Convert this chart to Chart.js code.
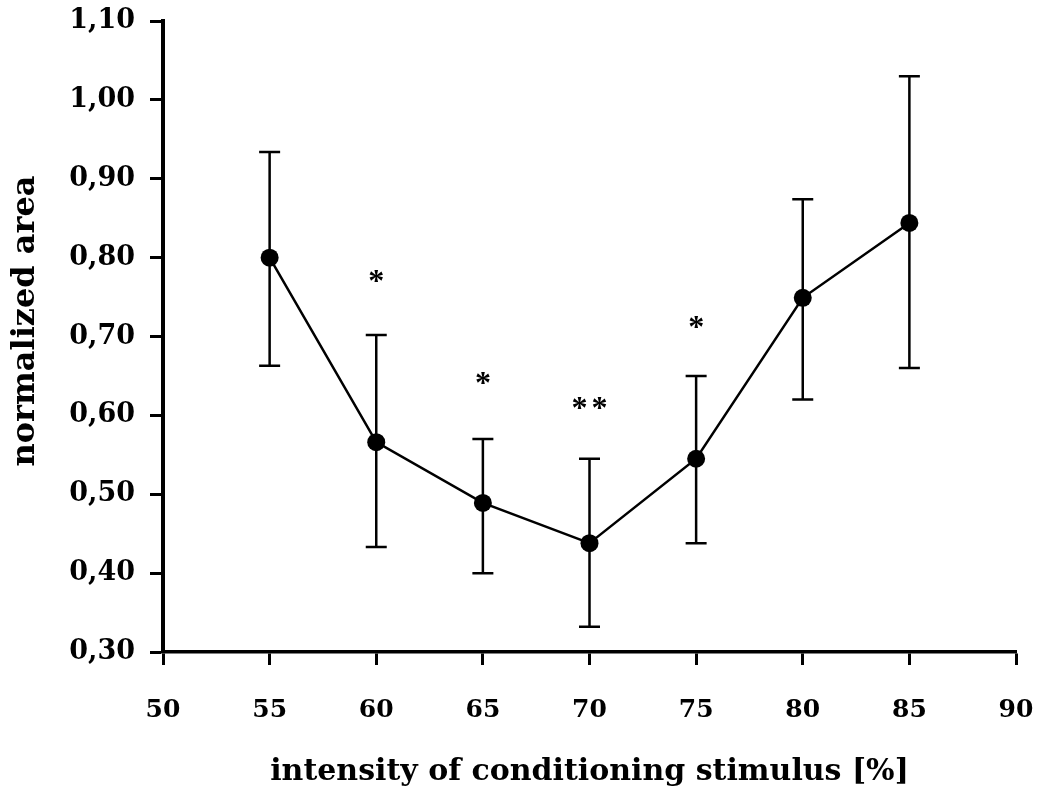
<!DOCTYPE html>
<html>
<head>
<meta charset="utf-8">
<script src="https://cdn.jsdelivr.net/npm/chart.js@4.4.1/dist/chart.umd.min.js"></script>
<style>
  html, body { margin: 0; padding: 0; background: #ffffff; }
  #wrap { width: 1038px; height: 790px; }
</style>
</head>
<body>
<div id="wrap"><canvas id="c" width="1038" height="790"></canvas></div>
<script>
// ---- data ----
const intensities = [55, 60, 65, 70, 75, 80, 85];
const meanArea    = [0.800, 0.566, 0.489, 0.438, 0.545, 0.749, 0.844];
const upperArea   = [0.934, 0.702, 0.570, 0.545, 0.650, 0.874, 1.030];
const lowerArea   = [0.663, 0.433, 0.400, 0.332, 0.438, 0.620, 0.660];
const sigMarks    = ['', '*', '*', '**', '*', '', ''];
const sigMarkY    = [null, 0.774, 0.645, 0.613, 0.716, null, null];
const xTickValues = [50, 55, 60, 65, 70, 75, 80, 85, 90];
const yTickValues = [0.30, 0.40, 0.50, 0.60, 0.70, 0.80, 0.90, 1.00, 1.10];
const yTickLabels = ['0,30', '0,40', '0,50', '0,60', '0,70', '0,80', '0,90', '1,00', '1,10'];
const xTitle = 'intensity of conditioning stimulus [%]';
const yTitle = 'normalized area';

const LABEL_FONT = 'DejaVu Serif';

function zeroPad(s) {
  s.paddingLeft = 0; s.paddingRight = 0; s.paddingTop = 0; s.paddingBottom = 0;
}

const errorBarPlugin = {
  id: 'errorBars',
  beforeDatasetsDraw(chart) {
    const {ctx, scales: {x, y}} = chart;
    ctx.save();
    ctx.strokeStyle = '#000';
    ctx.lineWidth = 2.5;
    const cap = 10.5;
    intensities.forEach((v, i) => {
      const px = x.getPixelForValue(v);
      const yt = y.getPixelForValue(upperArea[i]);
      const yb = y.getPixelForValue(lowerArea[i]);
      ctx.beginPath();
      ctx.moveTo(px, yt); ctx.lineTo(px, yb);
      ctx.moveTo(px - cap, yt); ctx.lineTo(px + cap, yt);
      ctx.moveTo(px - cap, yb); ctx.lineTo(px + cap, yb);
      ctx.stroke();
    });
    ctx.restore();
  },
  afterDatasetsDraw(chart) {
    const {ctx, scales: {x, y}} = chart;
    ctx.save();
    ctx.fillStyle = '#000';
    ctx.font = 'bold 32px "Liberation Serif"';
    ctx.textAlign = 'center';
    ctx.textBaseline = 'alphabetic';
    intensities.forEach((v, i) => {
      const m = sigMarks[i];
      if (!m) return;
      const px = x.getPixelForValue(v);
      const py = y.getPixelForValue(sigMarkY[i]);
      const n = m.length;
      const gap = 20;
      for (let k = 0; k < n; k++) {
        const cx = px + (k - (n - 1) / 2) * gap;
        ctx.fillText(m[k], cx, py + 13);
      }
    });
    ctx.restore();
  },
  afterDraw(chart) {
    const {ctx} = chart;
    ctx.save();
    ctx.fillStyle = '#000';
    ctx.font = 'bold 32px "' + LABEL_FONT + '"';
    ctx.textAlign = 'center';
    ctx.textBaseline = 'middle';
    ctx.translate(26, 321);
    ctx.rotate(-Math.PI / 2);
    ctx.fillText(yTitle, 0, 0);
    ctx.restore();
  }
};

new Chart(document.getElementById('c'), {
  type: 'line',
  data: {
    datasets: [{
      data: intensities.map((v, i) => ({x: v, y: meanArea[i]})),
      borderColor: '#000',
      borderWidth: 2.5,
      backgroundColor: '#000',
      pointRadius: 9,
      pointBorderWidth: 0,
      pointBackgroundColor: '#000',
      tension: 0,
      fill: false
    }]
  },
  options: {
    responsive: false,
    animation: false,
    devicePixelRatio: 1,
    layout: { padding: { top: 21, right: 22, left: 0, bottom: 0 } },
    plugins: { legend: { display: false }, tooltip: { enabled: false } },
    scales: {
      x: {
        type: 'linear',
        min: 50, max: 90,
        afterBuildTicks: (s) => { s.ticks = xTickValues.map(v => ({value: v})); },
        afterFit: (s) => { s.height = 138; zeroPad(s); },
        ticks: {
          color: '#000',
          font: { family: LABEL_FONT, size: 25, weight: 'bold' },
          padding: 30,
          maxRotation: 0,
          callback: (v) => String(v)
        },
        grid: { drawOnChartArea: false, drawTicks: true, tickLength: 13, tickWidth: 3, tickColor: '#000' },
        border: { display: true, color: '#000', width: 3.5 },
        title: {
          display: true, text: xTitle, color: '#000',
          font: { family: LABEL_FONT, size: 30, weight: 'bold' },
          padding: { top: 0, bottom: 0 }
        }
      },
      y: {
        type: 'linear',
        min: 0.30, max: 1.10,
        afterBuildTicks: (s) => { s.ticks = yTickValues.map(v => ({value: v})); },
        afterFit: (s) => { s.width = 163; zeroPad(s); },
        ticks: {
          color: '#000',
          font: { family: LABEL_FONT, size: 27, weight: 'bold' },
          padding: 15,
          callback: (v, i) => yTickLabels[i]
        },
        grid: { drawOnChartArea: false, drawTicks: true, tickLength: 13, tickWidth: 3, tickColor: '#000' },
        border: { display: true, color: '#000', width: 4 }
      }
    }
  },
  plugins: [errorBarPlugin]
});
</script>
</body>
</html>
